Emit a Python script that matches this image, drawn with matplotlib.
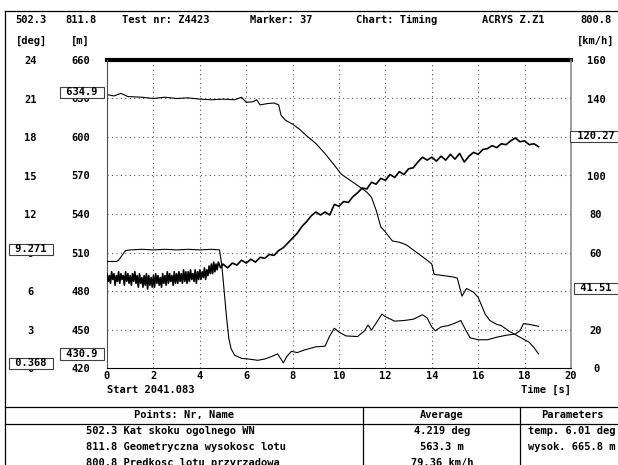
import matplotlib
matplotlib.use("Agg")
import matplotlib.pyplot as plt
from matplotlib import transforms
from matplotlib.lines import Line2D

plt.rcParams['font.family'] = 'DejaVu Sans Mono'
plt.rcParams['font.size'] = 7.5
plt.rcParams['font.weight'] = 'bold'

# --- recorded channels ---------------------------------------------------
# 502.3 flight path angle [deg]
angle_t = [0.0, 0.4, 0.5, 0.8, 1.0, 1.5, 2.0, 2.5, 3.0, 3.5, 4.0, 4.5, 4.85,
           4.95, 5.05, 5.15, 5.25, 5.35, 5.5, 5.8, 6.1, 6.5, 6.8, 7.1, 7.35,
           7.5, 7.6, 7.75, 7.95, 8.2, 8.5, 8.8, 9.0, 9.4, 9.6, 9.8, 10.0,
           10.3, 10.8, 11.1, 11.25, 11.4, 11.6, 11.85, 12.0, 12.4, 12.8, 13.2,
           13.6, 13.8, 14.0, 14.15, 14.4, 14.7, 15.0, 15.25, 15.45, 15.65,
           16.0, 16.4, 16.8, 17.2, 17.6, 17.8, 17.95, 18.2, 18.6]
angle_deg = [8.3, 8.3, 8.4, 9.15, 9.2, 9.25, 9.2, 9.25, 9.2, 9.25, 9.2, 9.25,
             9.2, 8.0, 6.0, 4.0, 2.3, 1.5, 1.0, 0.75, 0.7, 0.6, 0.7, 0.9, 1.1,
             0.7, 0.4, 0.9, 1.3, 1.2, 1.4, 1.55, 1.65, 1.7, 2.5, 3.1, 2.8, 2.5,
             2.45, 2.9, 3.35, 2.95, 3.5, 4.2, 4.0, 3.65, 3.7, 3.8, 4.15, 3.9,
             3.2, 2.9, 3.2, 3.3, 3.5, 3.7, 3.0, 2.35, 2.2, 2.2, 2.4, 2.55, 2.65,
             2.9, 3.45, 3.4, 3.25]

# 811.8 geometric altitude [m]
alt_t = [0.0, 0.3, 0.6, 0.9, 1.5, 2.0, 2.5, 3.0, 3.5, 4.0, 4.5, 5.0, 5.5,
         5.8, 6.0, 6.3, 6.45, 6.6, 6.9, 7.2, 7.4, 7.5, 7.7, 8.0, 8.3, 8.6,
         9.0, 9.4, 9.8, 10.1, 10.5, 10.9, 11.2, 11.4, 11.6, 11.8, 12.0, 12.3,
         12.6, 12.9, 13.2, 13.5, 13.8, 14.0, 14.1, 14.5, 14.9, 15.1, 15.3,
         15.5, 15.8, 16.0, 16.3, 16.5, 16.8, 17.0, 17.3, 17.6, 17.9, 18.2,
         18.4, 18.6]
alt_m = [633, 632, 634, 631.5, 631, 630, 631, 630, 630.5, 629.5, 629, 629.5,
         629, 631, 627, 627.5, 629, 625, 626, 626.5, 625, 617, 613, 610, 606,
         601, 595, 587, 578, 571, 566, 561, 557, 553, 543, 530, 526, 519, 518,
         516, 512, 508, 504, 501, 493, 492, 491, 490, 476, 482, 479, 475, 462,
         457, 454, 453, 449, 446, 443, 440, 436, 431]

# 800.8 indicated airspeed [km/h]
speed_t = [0.00, 0.05, 0.10, 0.15, 0.20, 0.25, 0.30, 0.35, 0.40, 0.45,
           0.50, 0.55, 0.60, 0.65, 0.70, 0.75, 0.80, 0.85, 0.90, 0.95,
           1.00, 1.05, 1.10, 1.15, 1.20, 1.25, 1.30, 1.35, 1.40, 1.45,
           1.50, 1.55, 1.60, 1.65, 1.70, 1.75, 1.80, 1.85, 1.90, 1.95,
           2.00, 2.05, 2.10, 2.15, 2.20, 2.25, 2.30, 2.35, 2.40, 2.45,
           2.50, 2.55, 2.60, 2.65, 2.70, 2.75, 2.80, 2.85, 2.90, 2.95,
           3.00, 3.05, 3.10, 3.15, 3.20, 3.25, 3.30, 3.35, 3.40, 3.45,
           3.50, 3.55, 3.60, 3.65, 3.70, 3.75, 3.80, 3.85, 3.90, 3.95,
           4.00, 4.05, 4.10, 4.15, 4.20, 4.25, 4.30, 4.35, 4.40, 4.45,
           4.50, 4.55, 4.60, 4.65, 4.70, 4.75, 4.80,
           4.9, 5.0, 5.2, 5.4, 5.6, 5.8, 6.0, 6.2, 6.4, 6.6, 6.8,
           7.0, 7.2, 7.4, 7.6, 7.8, 8.0, 8.2, 8.4, 8.6, 8.8,
           9.0, 9.2, 9.4, 9.6, 9.8, 10.0, 10.2, 10.4, 10.6, 10.8,
           11.0, 11.2, 11.4, 11.6, 11.8, 12.0, 12.2, 12.4, 12.6, 12.8,
           13.0, 13.2, 13.4, 13.6, 13.8, 14.0, 14.2, 14.4, 14.6, 14.8,
           15.0, 15.2, 15.4, 15.6, 15.8, 16.0, 16.2, 16.4, 16.6, 16.8,
           17.0, 17.2, 17.4, 17.6, 17.8, 18.0, 18.2, 18.4, 18.6]
speed_kmh = [49, 45, 48, 44, 50, 46, 49, 43, 48, 45,
             50, 44, 49, 46, 48, 43, 50, 45, 49, 44,
             48, 43, 49, 45, 50, 44, 48, 42, 49, 44,
             47, 42, 48, 43, 49, 41, 48, 43, 47, 42,
             48, 42, 49, 44, 48, 43, 47, 42, 49, 44,
             48, 43, 50, 44, 49, 45, 48, 43, 50, 44,
             49, 44, 50, 45, 49, 44, 51, 45, 50, 44,
             50, 45, 51, 46, 49, 45, 51, 44, 50, 46,
             51, 46, 50, 47, 52, 46, 51, 48, 53, 49,
             54, 49, 55, 50, 54, 51, 55,
             52, 54, 52, 54.5, 53.5, 56, 54.5, 56.5, 55, 57.5, 57,
             59, 58.5, 61, 62.5, 65, 67.5, 70, 73.5, 76, 79,
             81, 79.5, 81, 79.5, 85, 84, 86.5, 86, 89, 91,
             93.5, 93, 96.5, 95.5, 98.5, 97.5, 100.5, 99, 102, 100.5,
             103.5, 104, 107, 109.5, 108, 109.5, 107.5, 110, 108, 111,
             108.5, 111.5, 107, 110, 112, 111, 113.5, 114, 115.5, 114.5,
             116.5, 116, 118, 119.5, 117.5, 118, 116, 116.5, 115]

time_ticks = [0, 2, 4, 6, 8, 10, 12, 14, 16, 18, 20]
deg_ticks = [0, 3, 6, 9, 12, 15, 18, 21, 24]
m_ticks = [420, 450, 480, 510, 540, 570, 600, 630, 660]
kmh_ticks = [0, 20, 40, 60, 80, 100, 120, 140, 160]

# cursor readouts shown in boxes next to the scales
alt_marks = ['634.9', '430.9']
angle_marks = ['9.271', '0.368']
speed_marks = ['120.27', '41.51']

header = [('502.3', 31), ('811.8', 81), ('Test nr: Z4423', 166),
          ('Marker: 37', 281), ('Chart: Timing', 397), ('ACRYS Z.Z1', 513),
          ('800.8', 596)]
units = [('[deg]', 31), ('[m]', 80), ('[km/h]', 596)]

rows_name = ['502.3 Kat skoku ogolnego WN',
             '811.8 Geometryczna wysokosc lotu',
             '800.8 Predkosc lotu przyrzadowa']
rows_avg = ['4.219 deg', '563.3 m', '79.36 km/h']
rows_par = ['temp. 6.01 deg', 'wysok. 665.8 m', '']

W, H = 618, 465
fig = plt.figure(figsize=(W / 100, H / 100), dpi=100)
# pixel coordinates measured from the top-left corner
px = transforms.Affine2D().scale(1 / W, -1 / H).translate(0, 1) + fig.transFigure

ax = fig.add_axes([107 / W, 1 - 368 / H, (571 - 107) / W, (368 - 60) / H])
ax_deg = ax.twinx()
ax_kmh = ax.twinx()

ax.set_xlim(0, 20)
ax.set_ylim(420, 660)
ax_deg.set_ylim(0, 24)
ax_kmh.set_ylim(0, 160)

# grid
for t in time_ticks[1:-1]:
    ax.axvline(t, color='0.35', lw=0.8, ls=(0, (1, 3)), zorder=0)
for m in m_ticks[1:-1]:
    ax.axhline(m, color='0.35', lw=0.8, ls=(0, (1, 3)), zorder=0)

ax.plot(alt_t, alt_m, color='black', lw=0.8)
ax_deg.plot(angle_t, angle_deg, color='black', lw=0.8)
ax_kmh.plot(speed_t, speed_kmh, color='black', lw=1.2)

for a in (ax, ax_deg, ax_kmh):
    for s in a.spines.values():
        s.set_visible(False)
ax.spines['bottom'].set_visible(True)
ax.spines['bottom'].set_color('black')
ax.spines['left'].set_visible(True)
ax.spines['left'].set_color('0.3')
ax.spines['right'].set_visible(True)
ax.spines['right'].set_color('0.55')
ax.spines['right'].set_linewidth(1.2)
ax.axhline(660, color='black', lw=3, clip_on=False)

ax.set_xticks(time_ticks)
ax.tick_params(axis='x', length=0, pad=2.5)

ax.set_yticks(m_ticks)
ax.tick_params(axis='y', length=0, pad=19)
for lab in ax.get_yticklabels():
    lab.set_ha('center')

ax_deg.yaxis.tick_left()
ax_deg.set_yticks(deg_ticks)
ax_deg.tick_params(axis='y', length=0, pad=55)
for lab in ax_deg.get_yticklabels():
    lab.set_ha('center')

ax_kmh.set_yticks(kmh_ticks)
ax_kmh.tick_params(axis='y', length=0, pad=18)
for lab in ax_kmh.get_yticklabels():
    lab.set_ha('center')


def readout(axis, x_px, text):
    tr = transforms.blended_transform_factory(px, axis.transData)
    axis.text(x_px, float(text), ' ' + text + ' ', transform=tr, ha='center',
              va='center', clip_on=False, zorder=10,
              bbox=dict(boxstyle='square,pad=0.05', fc='white', ec='0.25', lw=0.8))


for v in alt_marks:
    readout(ax, 82, v)
for v in angle_marks:
    readout(ax_deg, 31, v)
for v in speed_marks:
    readout(ax_kmh, 596, v)

# header and units
for txt, x in header:
    fig.text(x, 20, txt, transform=px, ha='center', va='center')
for txt, x in units:
    fig.text(x, 41, txt, transform=px, ha='center', va='center')

fig.text(107, 390, 'Start 2041.083', transform=px, ha='left', va='center')
fig.text(571, 390, 'Time [s]', transform=px, ha='right', va='center')

# frame and table rules
for xs, ys in [([5, W], [11, 11]), ([5, 5], [11, H]), ([5, W], [407, 407]),
               ([5, W], [424, 424]), ([363, 363], [407, H]), ([520, 520], [407, H])]:
    fig.add_artist(Line2D(xs, ys, transform=px, color='black', lw=0.9))

fig.text(184, 415, 'Points: Nr, Name', transform=px, ha='center', va='center')
fig.text(442, 415, 'Average', transform=px, ha='center', va='center')
fig.text(572, 415, 'Parameters', transform=px, ha='center', va='center')
for i, (name, avg, par) in enumerate(zip(rows_name, rows_avg, rows_par)):
    y = 431 + 16 * i
    fig.text(86, y, name, transform=px, ha='left', va='center')
    fig.text(442, y, avg, transform=px, ha='center', va='center')
    fig.text(528, y, par, transform=px, ha='left', va='center')

fig.savefig('out.png', dpi=100, facecolor='white')
